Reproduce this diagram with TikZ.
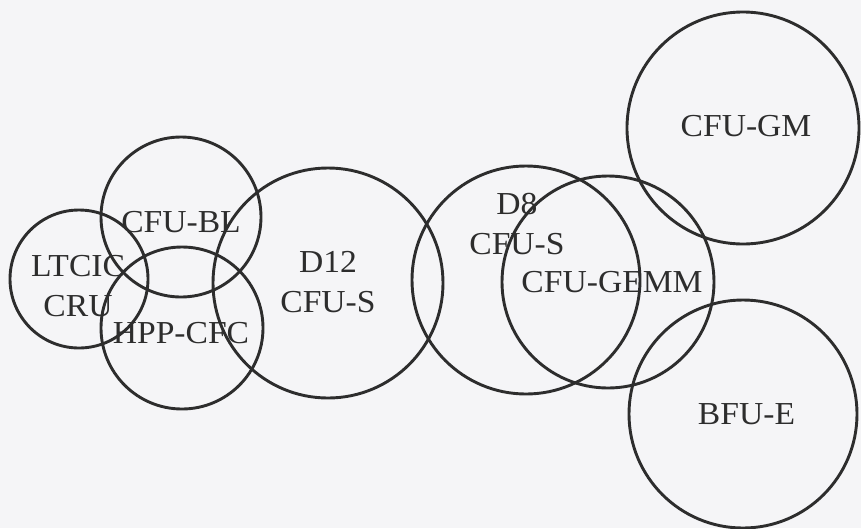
\documentclass[tikz,border=0pt]{standalone}
\usepackage{fontspec}
\setmainfont{Liberation Serif}[FakeStretch=1.05]
\definecolor{paper}{RGB}{245,245,247}
\definecolor{ink}{RGB}{45,45,45}
\begin{document}
\begin{tikzpicture}[x=1pt,y=-1pt,
  ring/.style={circle,draw=ink,line width=2.9pt,inner sep=0pt,minimum size=#1},
  tag/.style={text=ink,font=\fontsize{32}{40}\selectfont,align=center,inner sep=0pt}]
\fill[paper] (0,0) rectangle (861,528);
\useasboundingbox (0,0) rectangle (861,528);

% progenitor compartments
\node[ring=138pt] (ltc)  at (79,279)  {};
\node[ring=160pt] (cbl)  at (181,217) {};
\node[ring=162pt] (hpp)  at (182,328) {};
\node[ring=230pt] (d12)  at (328,283) {};
\node[ring=228pt] (d8)   at (526,280) {};
\node[ring=212pt] (gemm) at (608,282) {};
\node[ring=232pt] (gm)   at (743,128) {};
\node[ring=228pt] (bfu)  at (743,414) {};

% labels
\node[tag] (tltc)  at (78,286.5)  {LTCIC\\CRU};
\node[tag] (tcbl)  at (181,222)   {CFU-BL};
\node[tag] (thpp)  at (181,333)   {HPP-CFC};
\node[tag] (td12)  at (328,282.5) {D12\\CFU-S};
\node[tag] (td8)   at (517,224)   {D8\\CFU-S};
\node[tag] (tgemm) at (612,282.5) {CFU-GEMM};
\node[tag] (tgm)   at (746,126)   {CFU-GM};
\node[tag] (tbfu)  at (746.5,414.5) {BFU-E};
\end{tikzpicture}
\end{document}
